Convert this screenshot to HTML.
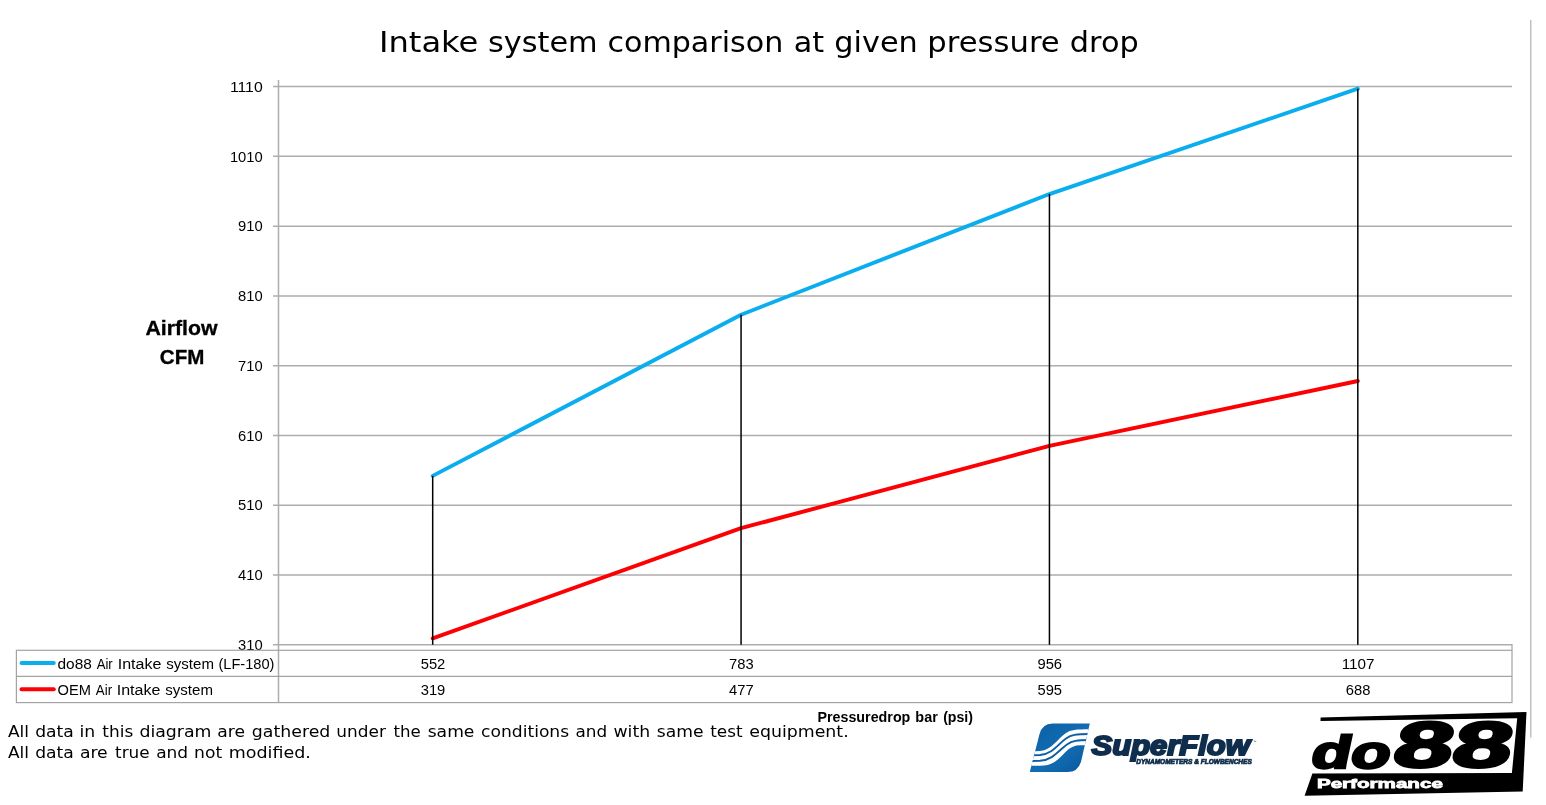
<!DOCTYPE html>
<html lang="en"><head><meta charset="utf-8"><title>Intake system comparison at given pressure drop</title>
<style>
html,body{margin:0;padding:0;background:#fff;}
body{width:1546px;height:805px;overflow:hidden;}
svg{display:block;}
.cal{font-family:"Liberation Sans",sans-serif;fill:#000;}
.ver{font-family:"DejaVu Sans","Liberation Sans",sans-serif;fill:#000;}
</style></head><body>
<svg width="1546" height="805" viewBox="0 0 1546 805">
<rect width="1546" height="805" fill="#fff"/>

<line x1="1530.8" y1="20" x2="1530.8" y2="737.5" stroke="#adadad" stroke-width="1.15"/>
<text class="ver" y="52.3" font-size="28.8"><tspan x="378.91" textLength="99.46" lengthAdjust="spacingAndGlyphs">Intake</tspan> <tspan x="487.90" textLength="109.74" lengthAdjust="spacingAndGlyphs">system</tspan> <tspan x="607.41" textLength="175.84" lengthAdjust="spacingAndGlyphs">comparison</tspan> <tspan x="793.70" textLength="30.35" lengthAdjust="spacingAndGlyphs">at</tspan> <tspan x="834.38" textLength="83.44" lengthAdjust="spacingAndGlyphs">given</tspan> <tspan x="927.37" textLength="132.33" lengthAdjust="spacingAndGlyphs">pressure</tspan> <tspan x="1069.88" textLength="68.83" lengthAdjust="spacingAndGlyphs">drop</tspan></text>
<g stroke="#adadad" stroke-width="1.5" fill="none">
<line x1="273" y1="644.70" x2="1512.0" y2="644.70"/>
<line x1="273" y1="574.94" x2="1512.0" y2="574.94"/>
<line x1="273" y1="505.18" x2="1512.0" y2="505.18"/>
<line x1="273" y1="435.41" x2="1512.0" y2="435.41"/>
<line x1="273" y1="365.65" x2="1512.0" y2="365.65"/>
<line x1="273" y1="295.89" x2="1512.0" y2="295.89"/>
<line x1="273" y1="226.13" x2="1512.0" y2="226.13"/>
<line x1="273" y1="156.36" x2="1512.0" y2="156.36"/>
<line x1="273" y1="86.60" x2="1512.0" y2="86.60"/>
<line x1="278.5" y1="80" x2="278.5" y2="702.5"/>
</g>
<g class="cal" font-size="15.2" text-anchor="end">
<text x="262.7" y="650.00" textLength="24.6" lengthAdjust="spacingAndGlyphs">310</text>
<text x="262.7" y="580.24" textLength="24.6" lengthAdjust="spacingAndGlyphs">410</text>
<text x="262.7" y="510.48" textLength="24.6" lengthAdjust="spacingAndGlyphs">510</text>
<text x="262.7" y="440.71" textLength="24.6" lengthAdjust="spacingAndGlyphs">610</text>
<text x="262.7" y="370.95" textLength="24.6" lengthAdjust="spacingAndGlyphs">710</text>
<text x="262.7" y="301.19" textLength="24.6" lengthAdjust="spacingAndGlyphs">810</text>
<text x="262.7" y="231.43" textLength="24.6" lengthAdjust="spacingAndGlyphs">910</text>
<text x="262.7" y="161.66" textLength="32.8" lengthAdjust="spacingAndGlyphs">1010</text>
<text x="262.7" y="91.90" textLength="32.8" lengthAdjust="spacingAndGlyphs">1110</text>
</g>
<g class="cal" font-weight="bold" font-size="21" stroke="#000" stroke-width="0.35">
<text x="145.45" y="335.4" textLength="72.1" lengthAdjust="spacingAndGlyphs">Airflow</text>
<text x="159.87" y="364.4" textLength="44.48" lengthAdjust="spacingAndGlyphs">CFM</text>
</g>
<polyline points="432.69,638.42 741.06,528.20 1049.44,445.88 1357.81,381.00" fill="none" stroke="#fd0004" stroke-width="3.9" stroke-linejoin="round" stroke-linecap="round"/>
<polyline points="432.69,475.87 741.06,314.72 1049.44,194.03 1357.81,88.69" fill="none" stroke="#0aaeef" stroke-width="3.9" stroke-linejoin="round" stroke-linecap="round"/>
<g stroke="#000" stroke-width="1.5">
<line x1="432.69" y1="475.87" x2="432.69" y2="644.70"/>
<line x1="741.06" y1="314.72" x2="741.06" y2="644.70"/>
<line x1="1049.44" y1="194.03" x2="1049.44" y2="644.70"/>
<line x1="1357.81" y1="88.69" x2="1357.81" y2="644.70"/>
</g>
<g stroke="#a3a3a3" stroke-width="1.2" fill="none">
<rect x="16.4" y="650.3" width="1495.6" height="52.30000000000007"/>
<line x1="16.4" y1="676.3" x2="1512.0" y2="676.3"/>
<line x1="1512.0" y1="643.90" x2="1512.0" y2="650.3"/>
</g>
<line x1="21.5" y1="663" x2="53.8" y2="663" stroke="#0aaeef" stroke-width="3.9" stroke-linecap="round"/>
<line x1="21.5" y1="689.2" x2="53.8" y2="689.2" stroke="#fd0004" stroke-width="3.9" stroke-linecap="round"/>
<g class="cal" font-size="15.2">
<text y="668.6"><tspan x="57.53" textLength="34.34" lengthAdjust="spacingAndGlyphs">do88</tspan> <tspan x="96.70" textLength="16.0" lengthAdjust="spacingAndGlyphs">Air</tspan> <tspan x="117.74" textLength="43.64" lengthAdjust="spacingAndGlyphs">Intake</tspan> <tspan x="166.29" textLength="47.63" lengthAdjust="spacingAndGlyphs">system</tspan> <tspan x="218.38" textLength="56.09" lengthAdjust="spacingAndGlyphs">(LF-180)</tspan></text>
<text y="694.6"><tspan x="57.52" textLength="33.39" lengthAdjust="spacingAndGlyphs">OEM</tspan> <tspan x="95.85" textLength="16.2" lengthAdjust="spacingAndGlyphs">Air</tspan> <tspan x="116.74" textLength="43.64" lengthAdjust="spacingAndGlyphs">Intake</tspan> <tspan x="165.29" textLength="47.68" lengthAdjust="spacingAndGlyphs">system</tspan></text>
</g>
<g class="cal" font-size="15.2" text-anchor="middle">
<text x="432.99" y="668.6" textLength="24.6" lengthAdjust="spacingAndGlyphs">552</text>
<text x="432.99" y="694.6" textLength="24.6" lengthAdjust="spacingAndGlyphs">319</text>
<text x="741.36" y="668.6" textLength="24.6" lengthAdjust="spacingAndGlyphs">783</text>
<text x="741.36" y="694.6" textLength="24.6" lengthAdjust="spacingAndGlyphs">477</text>
<text x="1049.74" y="668.6" textLength="24.6" lengthAdjust="spacingAndGlyphs">956</text>
<text x="1049.74" y="694.6" textLength="24.6" lengthAdjust="spacingAndGlyphs">595</text>
<text x="1358.11" y="668.6" textLength="32.8" lengthAdjust="spacingAndGlyphs">1107</text>
<text x="1358.11" y="694.6" textLength="24.6" lengthAdjust="spacingAndGlyphs">688</text>
</g>
<text class="cal" font-weight="bold" font-size="15.2" y="721.5"><tspan x="817.44" textLength="92.92" lengthAdjust="spacingAndGlyphs">Pressuredrop</tspan> <tspan x="915.37" textLength="22.44" lengthAdjust="spacingAndGlyphs">bar</tspan> <tspan x="943.13" textLength="29.89" lengthAdjust="spacingAndGlyphs">(psi)</tspan></text>
<g class="ver" font-size="16.1">
<text y="736.6"><tspan x="7.95" textLength="21.03" lengthAdjust="spacingAndGlyphs">All</tspan> <tspan x="35.21" textLength="38.63" lengthAdjust="spacingAndGlyphs">data</tspan> <tspan x="79.45" textLength="15.72" lengthAdjust="spacingAndGlyphs">in</tspan> <tspan x="102.39" textLength="30.93" lengthAdjust="spacingAndGlyphs">this</tspan> <tspan x="139.43" textLength="72.02" lengthAdjust="spacingAndGlyphs">diagram</tspan> <tspan x="217.25" textLength="27.75" lengthAdjust="spacingAndGlyphs">are</tspan> <tspan x="251.87" textLength="78.52" lengthAdjust="spacingAndGlyphs">gathered</tspan> <tspan x="336.37" textLength="49.52" lengthAdjust="spacingAndGlyphs">under</tspan> <tspan x="393.54" textLength="27.28" lengthAdjust="spacingAndGlyphs">the</tspan> <tspan x="427.68" textLength="46.75" lengthAdjust="spacingAndGlyphs">same</tspan> <tspan x="481.04" textLength="88.12" lengthAdjust="spacingAndGlyphs">conditions</tspan> <tspan x="575.50" textLength="31.7" lengthAdjust="spacingAndGlyphs">and</tspan> <tspan x="613.51" textLength="36.61" lengthAdjust="spacingAndGlyphs">with</tspan> <tspan x="656.87" textLength="46.76" lengthAdjust="spacingAndGlyphs">same</tspan> <tspan x="710.25" textLength="32.36" lengthAdjust="spacingAndGlyphs">test</tspan> <tspan x="749.23" textLength="99.46" lengthAdjust="spacingAndGlyphs">equipment.</tspan></text>
<text y="757.5"><tspan x="7.95" textLength="21.03" lengthAdjust="spacingAndGlyphs">All</tspan> <tspan x="35.21" textLength="38.63" lengthAdjust="spacingAndGlyphs">data</tspan> <tspan x="79.90" textLength="27.8" lengthAdjust="spacingAndGlyphs">are</tspan> <tspan x="115.09" textLength="34.54" lengthAdjust="spacingAndGlyphs">true</tspan> <tspan x="156.19" textLength="31.97" lengthAdjust="spacingAndGlyphs">and</tspan> <tspan x="194.02" textLength="28.1" lengthAdjust="spacingAndGlyphs">not</tspan> <tspan x="228.74" textLength="82.08" lengthAdjust="spacingAndGlyphs">modified.</tspan></text>
</g>
<!-- SuperFlow logo -->
<defs>
<linearGradient id="sfg" x1="0" y1="0" x2="1" y2="1">
<stop offset="0" stop-color="#0d5fa3"/><stop offset="0.55" stop-color="#116db4"/><stop offset="1" stop-color="#0a5799"/>
</linearGradient>
<clipPath id="sfc"><path id="sfshape" d="M1029.8,772.1 L1039.4,734.5 Q1042.2,723.6 1052.5,723.6 L1089.8,723.6 L1081.3,760.5 Q1078.6,772.1 1067.5,772.1 Z"/></clipPath>
</defs>
<g id="superflow">
<path d="M1029.8,772.1 L1039.4,734.5 Q1042.2,723.6 1052.5,723.6 L1089.8,723.6 L1081.3,760.5 Q1078.6,772.1 1067.5,772.1 Z" fill="url(#sfg)"/>
<g clip-path="url(#sfc)">
<path d="M1030,751.5 L1040,751 C1052,750 1058,738 1066,733 C1071,729.6 1076,729.2 1092,729.2 L1092,745.2 L1080,745.2 C1070,745.2 1066,752 1060,757.5 C1053,764 1048,765.8 1040,765.8 L1026,765.8 Z" fill="#fff"/>
<path d="M1028,755.3 L1040,755 C1053,754 1058,744 1066,738.5 C1071,735 1075,734 1092,734" fill="none" stroke="#0d5fa4" stroke-width="1.9"/>
<path d="M1026,761.2 L1040,760.8 C1053,760 1059,750 1067,744.5 C1072,741 1076,740 1092,740" fill="none" stroke="#0d5fa4" stroke-width="1.9"/>
</g>
<text id="sf1" x="1091.6" y="755.4" font-family="'Liberation Sans',sans-serif" font-weight="bold" font-style="italic" font-size="27.4" fill="#0f2d4c" stroke="#0f2d4c" stroke-width="2.0" stroke-linejoin="miter" textLength="158.3" lengthAdjust="spacingAndGlyphs">SuperFlow</text>
<text id="sf2" x="1136.2" y="764" font-family="'Liberation Sans',sans-serif" font-weight="bold" font-style="italic" font-size="7.0" fill="#0f2d4c" stroke="#0f2d4c" stroke-width="0.7" textLength="115.6" lengthAdjust="spacingAndGlyphs">DYNAMOMETERS &amp; FLOWBENCHES</text>
<text x="1253.6" y="743.2" font-family="'Liberation Sans',sans-serif" font-size="3.2" fill="#0f2d4c">™</text>
</g>
<!-- do88 logo -->
<g id="do88">
<path d="M1320.6,717.4 L1526.5,712.1 L1522.7,791.4 L1304.6,795.7 L1312.4,773.5 L1511.9,772.9 L1517.2,718.2 L1320.5,720.9 Z" fill="#000"/>
<g font-family="'Liberation Sans',sans-serif" font-weight="bold" fill="#000" stroke="#000" stroke-linejoin="round">
<text id="d1" stroke-linejoin="miter" transform="translate(1309.0,767.5) skewX(-12) scale(1.41,1)" font-size="46" stroke-width="2.5">do</text>
<text id="d2" transform="translate(1390.5,767.3) skewX(-12) scale(1.64,1)" font-size="64.5" stroke-width="3">88</text>
</g>
<text id="d3" x="1316.9" y="788" font-family="'Liberation Sans',sans-serif" font-weight="bold" font-size="13.4" fill="#fff" stroke="#fff" stroke-width="0.8" textLength="126" lengthAdjust="spacingAndGlyphs">Performance</text>
</g>

</svg>
</body></html>
